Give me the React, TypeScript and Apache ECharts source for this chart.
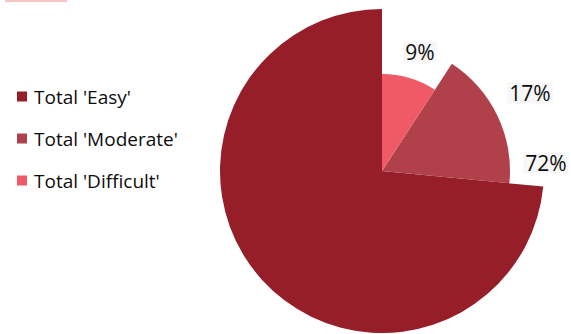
import React, { useEffect, useRef } from 'react';
import * as echarts from 'echarts';

const categories = ["Total 'Easy'", "Total 'Moderate'", "Total 'Difficult'"];
const values = [72, 17, 9];
const colors = ['#961e28', '#b0414a', '#ef5a66'];

export default function App() {
  const ref = useRef<HTMLDivElement>(null);
  useEffect(() => {
    if (!ref.current) return;
    const chart = echarts.init(ref.current, null, { renderer: 'svg' });
    const font = '"Open Sans", "Noto Sans", sans-serif';
    const radii = [162, 128, 97];
    const labelPos = [[546, 163], [530, 93], [420, 52]];
    const series = categories.map((_, i) => ({
      type: 'pie',
      center: [382, 171],
      radius: [0, radii[i]],
      startAngle: 90,
      clockwise: false,
      silent: true,
      avoidLabelOverlap: false,
      z: 2 + i,
      itemStyle: { borderWidth: 0 },
      emphasis: { disabled: true },
      labelLine: { show: false },
      label: {
        formatter: '{c}%',
        fontSize: 21,
        color: '#0d0d0d',
        fontFamily: font,
        backgroundColor: '#f7f7f7',
        padding: [0, 2],
      },
      labelLayout: () => ({
        x: labelPos[i][0],
        y: labelPos[i][1],
        align: 'center',
        verticalAlign: 'middle',
      }),
      data: categories.map((name, j) => ({
        name,
        value: values[j],
        itemStyle: { color: j === i ? colors[i] : 'transparent' },
        label: { show: j === i },
      })),
    }));
    chart.setOption({
      animation: false,
      backgroundColor: '#ffffff',
      graphic: [
        { type: 'rect', shape: { x: 5, y: 0, width: 62, height: 2 }, style: { fill: '#f7c4c4' } },
      ],
      legend: {
        orient: 'vertical',
        left: 12,
        top: 82,
        icon: 'rect',
        itemWidth: 10,
        itemHeight: 10,
        itemGap: 23,
        selectedMode: false,
        textStyle: { fontSize: 19, color: '#0d0d0d', fontFamily: font, padding: [0, 0, 0, 2] },
        data: categories.map((name, i) => ({ name, itemStyle: { color: colors[i] } })),
      },
      series,
    });
    return () => chart.dispose();
  }, []);
  return <div ref={ref} style={{ position: 'absolute', left: 0, top: 0, width: 571, height: 334 }} />;
}
